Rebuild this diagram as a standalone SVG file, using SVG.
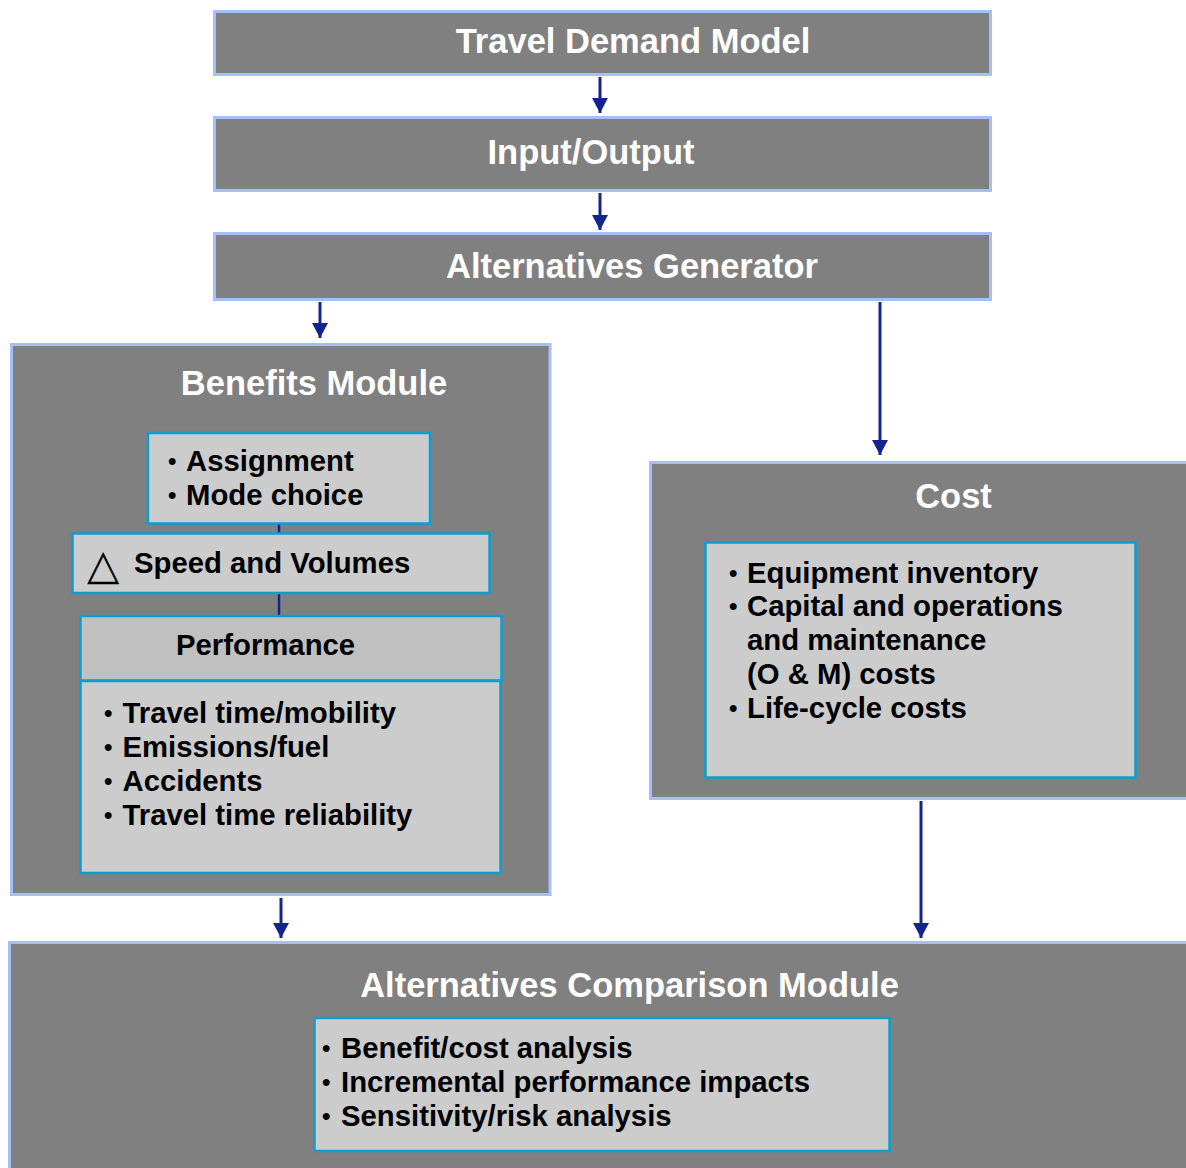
<svg xmlns="http://www.w3.org/2000/svg" width="1186" height="1168" viewBox="0 0 1186 1168">
  <defs>
    <marker id="arrow" markerWidth="15" markerHeight="16" refX="15" refY="8" orient="auto" markerUnits="userSpaceOnUse" viewBox="0 0 15 16">
      <path d="M0,0 L15,8 L0,16 Z" fill="#14248c"/>
    </marker>
    <style>
      .outer { fill: #808080; stroke: #a6c0f6; stroke-width: 3; }
      .inner { fill: #cccccc; stroke: #0a9fd0; stroke-width: 2.5; }
      .head { fill: #c0c0c0; stroke: #0a9fd0; stroke-width: 2.5; }
      .title { font-family: "Liberation Sans", Arial, sans-serif; font-weight: bold; font-size: 34.5px; fill: #ffffff; text-anchor: middle; }
      .body { font-family: "Liberation Sans", Arial, sans-serif; font-weight: bold; font-size: 29.3px; fill: #000000; }
      .bullet { font-family: "Liberation Sans", Arial, sans-serif; font-weight: bold; font-size: 24px; fill: #000000; }
      .sym { font-family: "DejaVu Sans", sans-serif; font-size: 42px; fill: #000000; }
      .link { stroke: #14248c; stroke-width: 3; fill: none; }
      .tie { stroke: #14248c; stroke-width: 2.5; fill: none; }
    </style>
  </defs>

  <rect width="1186" height="1168" fill="#ffffff"/>

  <!-- connectors between modules -->
  <g id="connectors">
    <line class="link" x1="600" y1="77" x2="600" y2="113" marker-end="url(#arrow)"/>
    <line class="link" x1="600" y1="193" x2="600" y2="230" marker-end="url(#arrow)"/>
    <line class="link" x1="320" y1="302" x2="320" y2="338" marker-end="url(#arrow)"/>
    <line class="link" x1="880" y1="302" x2="880" y2="455" marker-end="url(#arrow)"/>
    <line class="link" x1="281" y1="898" x2="281" y2="938" marker-end="url(#arrow)"/>
    <line class="link" x1="921" y1="801" x2="921" y2="938" marker-end="url(#arrow)"/>
  </g>

  <g id="travel-demand-model">
    <rect class="outer" x="214.5" y="11.5" width="776" height="63"/>
    <text class="title" x="633" y="53">Travel Demand Model</text>
  </g>

  <g id="input-output">
    <rect class="outer" x="214.5" y="117.5" width="776" height="73"/>
    <text class="title" x="591" y="164">Input/Output</text>
  </g>

  <g id="alternatives-generator">
    <rect class="outer" x="214.5" y="233.5" width="776" height="66"/>
    <text class="title" x="632" y="278">Alternatives Generator</text>
  </g>

  <g id="benefits-module">
    <rect class="outer" x="11.5" y="344.5" width="538.5" height="550"/>
    <text class="title" x="314" y="395">Benefits Module</text>

    <!-- ties between the stacked sub-boxes -->
    <line class="tie" x1="279" y1="524" x2="279" y2="533"/>
    <line class="tie" x1="279" y1="594" x2="279" y2="616"/>

    <g id="travel-models">
      <rect class="inner" x="148" y="433" width="282" height="90.5"/>
      <text class="bullet" x="168" y="469">•</text>
      <text class="body" x="186" y="471">Assignment</text>
      <text class="bullet" x="168" y="503">•</text>
      <text class="body" x="186" y="505">Mode choice</text>
    </g>

    <g id="speed-volumes">
      <rect class="inner" x="72.5" y="533.5" width="417" height="59.5"/>
      <text class="sym" x="87" y="579">△</text>
      <text class="body" x="134" y="573">Speed and Volumes</text>
    </g>

    <g id="performance">
      <rect class="head" x="80.5" y="616" width="421" height="64.5"/>
      <text class="body" x="176" y="655">Performance</text>
      <rect class="inner" x="80.5" y="681" width="420" height="192"/>
      <text class="bullet" x="104" y="721">•</text>
      <text class="body" x="122.5" y="723">Travel time/mobility</text>
      <text class="bullet" x="104" y="755">•</text>
      <text class="body" x="122.5" y="757">Emissions/fuel</text>
      <text class="bullet" x="104" y="789">•</text>
      <text class="body" x="122.5" y="791">Accidents</text>
      <text class="bullet" x="104" y="823">•</text>
      <text class="body" x="122.5" y="825">Travel time reliability</text>
    </g>
  </g>

  <g id="cost">
    <rect class="outer" x="650.5" y="462.5" width="545" height="336"/>
    <text class="title" x="953.5" y="508">Cost</text>
    <rect class="inner" x="705.5" y="542.5" width="430" height="235"/>
    <text class="bullet" x="729" y="581">•</text>
    <text class="body" x="747" y="583">Equipment inventory</text>
    <text class="bullet" x="729" y="614">•</text>
    <text class="body" x="747" y="616">Capital and operations</text>
    <text class="body" x="747" y="650">and maintenance</text>
    <text class="body" x="747" y="684">(O &amp; M) costs</text>
    <text class="bullet" x="729" y="716">•</text>
    <text class="body" x="747" y="718">Life-cycle costs</text>
  </g>

  <g id="alternatives-comparison-module">
    <rect class="outer" x="9.5" y="942.5" width="1190" height="240"/>
    <text class="title" x="629.5" y="997">Alternatives Comparison Module</text>
    <rect class="inner" x="314.5" y="1018" width="575" height="133"/>
    <text class="bullet" x="322" y="1056">•</text>
    <text class="body" x="341" y="1058">Benefit/cost analysis</text>
    <text class="bullet" x="322" y="1090">•</text>
    <text class="body" x="341" y="1092">Incremental performance impacts</text>
    <text class="bullet" x="322" y="1124">•</text>
    <text class="body" x="341" y="1126">Sensitivity/risk analysis</text>
  </g>
</svg>
